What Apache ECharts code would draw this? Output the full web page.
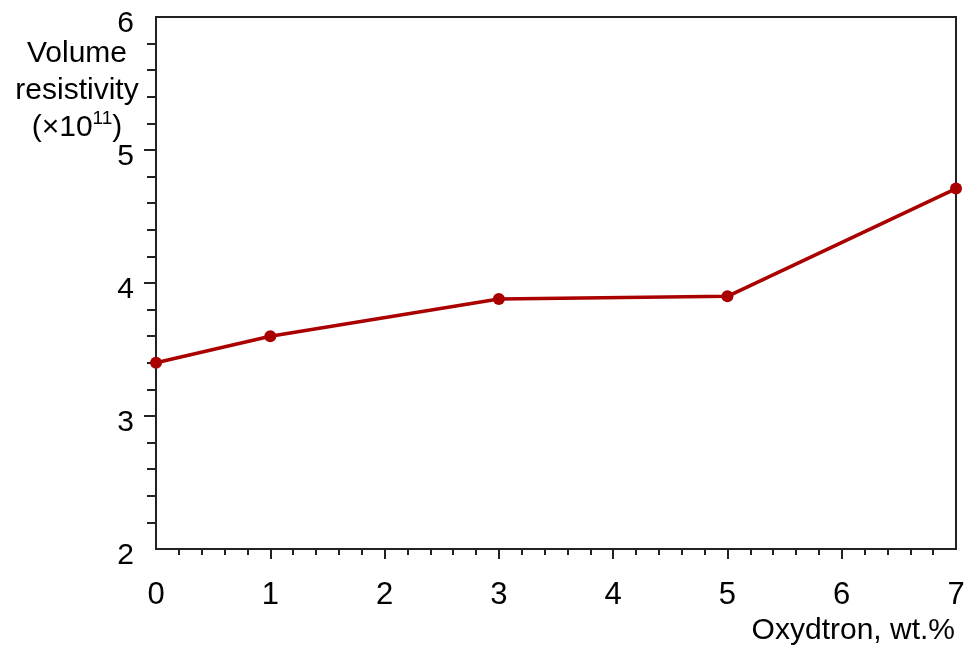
<!DOCTYPE html>
<html>
<head>
<meta charset="utf-8">
<script src="https://cdn.jsdelivr.net/npm/echarts@6/dist/echarts.min.js"></script>
<style>html,body{margin:0;padding:0;background:#fff;}#chart{width:979px;height:652px;}</style>
</head>
<body>
<div id="chart"></div>
<script>
const xValues = [0, 1, 3, 5, 7];
const resistivity = [3.40, 3.60, 3.88, 3.90, 4.71];
const xTickLabels = [0, 1, 2, 3, 4, 5, 6, 7];
const yTickLabels = [2, 3, 4, 5, 6];
const xAxisTitle = 'Oxydtron, wt.%';
const yAxisTitleLines = ['Volume', 'resistivity', '(×10{sup|11})'];

const FONT = '"Liberation Sans", Arial, sans-serif';
const chart = echarts.init(document.getElementById('chart'), null, {renderer: 'canvas'});
const seriesData = xValues.map((x, i) => [x, resistivity[i]]);

chart.setOption({
  animation: false,
  backgroundColor: '#fff',
  grid: {left: 156, top: 17, right: 23, bottom: 103, show: true, borderColor: '#222', borderWidth: 2, backgroundColor: 'transparent'},
  xAxis: {
    type: 'value', min: 0, max: 7, interval: 1,
    axisLine: {show: true, lineStyle: {color: '#222', width: 2}},
    axisTick: {show: true, length: 10, lineStyle: {color: '#222', width: 2}, customValues: xTickLabels.slice(1, -1)},
    minorTick: {show: true, splitNumber: 5, length: 6, lineStyle: {color: '#222', width: 2}},
    splitLine: {show: false},
    axisLabel: {color: '#000', fontSize: 31, fontFamily: FONT, margin: 31, customValues: xTickLabels}
  },
  yAxis: {
    type: 'value', min: 2, max: 6, interval: 1,
    axisLine: {show: true, lineStyle: {color: '#222', width: 2}},
    axisTick: {show: true, length: 12, lineStyle: {color: '#222', width: 2}, customValues: yTickLabels.slice(1, -1)},
    minorTick: {show: true, splitNumber: 5, length: 9, lineStyle: {color: '#222', width: 2}},
    splitLine: {show: false},
    axisLabel: {color: '#000', fontSize: 30, fontFamily: FONT, margin: 22, verticalAlign: 'top', lineHeight: 14, customValues: yTickLabels}
  },
  graphic: [
    {
      type: 'text', x: 77, y: 35, z: 10,
      style: {
        text: yAxisTitleLines.join('\n'),
        align: 'center', verticalAlign: 'top',
        font: '30px ' + FONT, fill: '#000', lineHeight: 37,
        rich: {sup: {fontSize: 19, fontFamily: FONT, verticalAlign: 'top', lineHeight: 26, fill: '#000'}}
      }
    },
    {
      type: 'text', x: 955, y: 631, z: 10,
      style: {text: xAxisTitle, align: 'right', verticalAlign: 'middle', font: '30px ' + FONT, fill: '#000'}
    }
  ],
  series: [{
    type: 'line',
    data: seriesData,
    symbol: 'circle', symbolSize: 12,
    lineStyle: {color: '#aa0000', width: 3.5},
    itemStyle: {color: '#aa0000'},
    clip: false
  }]
});
</script>
</body>
</html>
